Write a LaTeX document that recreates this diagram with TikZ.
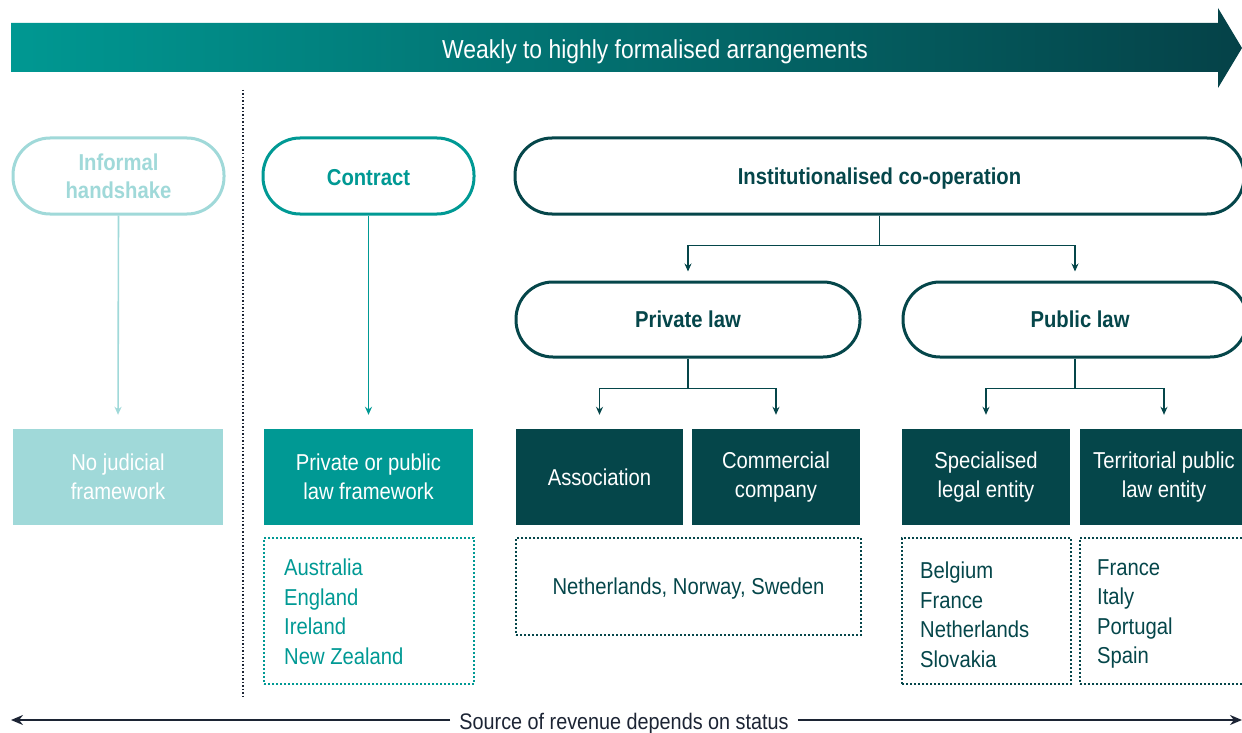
\documentclass[tikz,border=0pt]{standalone}
\usepackage{fontspec}
\setmainfont{Liberation Sans}[FakeStretch=0.88]
\usetikzlibrary{arrows.meta}

\definecolor{paleteal}{RGB}{160,217,217}
\definecolor{midteal}{RGB}{0,153,148}
\definecolor{deepteal}{RGB}{5,70,74}
\definecolor{bandleft}{RGB}{0,152,146}
\definecolor{bandright}{RGB}{5,66,72}
\definecolor{inkblue}{RGB}{28,36,52}

\tikzset{
  pill/.style={draw, line width=3pt, rounded corners=37pt, minimum height=76pt,
    fill=white, inner sep=0pt, align=center,
    font=\bfseries\fontsize{23}{28}\selectfont},
  solidbox/.style={minimum height=96pt, inner sep=0pt, align=center,
    text=white, font=\fontsize{23}{29}\selectfont},
  listbox/.style={draw, line width=2pt, dash pattern=on 2pt off 2pt, inner sep=0pt},
  listtext/.style={anchor=north west, inner sep=0pt, align=left,
    font=\fontsize{23}{29.5}\selectfont},
  conn/.style={line width=1.6pt, -{Stealth[length=8pt,width=7pt]}},
  trunk/.style={line width=1.6pt},
}

\begin{document}
\begin{tikzpicture}[x=1pt,y=-1pt]
\clip (0,0) rectangle (1242,733);

% Formalisation band across the top
\shade[left color=bandleft, right color=bandright]
  (11,23) -- (1218,23) -- (1218,8) -- (1242,48) -- (1218,88) -- (1218,72) -- (11,72) -- cycle;
\node[text=white, font=\fontsize{26}{30}\selectfont, text depth=0pt] (band) at (655,49)
  {Weakly to highly formalised arrangements};

% Separator between informal and formal arrangements
\coordinate (septop) at (243,90);
\coordinate (sepbot) at (243,698);
\draw[inkblue, line width=1.3pt, dash pattern=on 1.5pt off 2pt] (septop) -- (sepbot);

% Top-level arrangement types
\node[pill, draw=paleteal, text=paleteal, minimum width=211pt] (informal) at (118.5,176)
  {Informal\\handshake};
\node[pill, draw=midteal, text=midteal, minimum width=211pt, text height=20pt] (contract) at (368.5,176)
  {Contract};
\node[pill, draw=deepteal, text=deepteal, minimum width=729pt, text depth=0pt] (inst) at (879.5,176)
  {Institutionalised co-operation};

% Legal basis of institutionalised co-operation
\node[pill, draw=deepteal, text=deepteal, minimum width=344pt, minimum height=75pt] (privlaw) at (688,319.5)
  {Private law};
\node[pill, draw=deepteal, text=deepteal, minimum width=344pt, minimum height=75pt] (publaw) at (1075,319.5)
  {\hspace*{10pt}Public law};

% Legal forms
\node[solidbox, fill=paleteal, minimum width=210pt] (nojud) at (118,477)
  {No judicial\\framework};
\node[solidbox, fill=midteal, minimum width=209pt] (privpub) at (368.5,477)
  {Private or public\\law framework};
\node[solidbox, fill=deepteal, minimum width=167pt] (assoc) at (599.5,477)
  {Association};
\node[solidbox, fill=deepteal, minimum width=168pt] (company) at (776,477)
  {Commercial\\company};
\node[solidbox, fill=deepteal, minimum width=168pt] (special) at (986,477)
  {Specialised\\legal entity};
\node[solidbox, fill=deepteal, minimum width=168pt] (territ) at (1164,477)
  {Territorial public\\law entity};

% Countries using each form
\node[listbox, draw=midteal, minimum width=210pt, minimum height=146pt] (ctrybox) at (369,611) {};
\node[listtext, text=midteal] (ctrylist) at (284,559)
  {Australia\\England\\Ireland\\New Zealand};
\node[listbox, draw=deepteal, text=deepteal, minimum width=345pt, minimum height=97pt,
  font=\fontsize{23}{29}\selectfont, text depth=0pt] (privlist) at (688.5,586.5)
  {Netherlands, Norway, Sweden};
\node[listbox, draw=deepteal, minimum width=169pt, minimum height=146pt] (specbox) at (986.5,611) {};
\node[listtext, text=deepteal] (speclist) at (920,562)
  {Belgium\\France\\Netherlands\\Slovakia};
\node[listbox, draw=deepteal, minimum width=168pt, minimum height=146pt] (terrbox) at (1164,611) {};
\node[listtext, text=deepteal] (terrlist) at (1097,559)
  {France\\Italy\\Portugal\\Spain};

% Connectors
\draw[conn, paleteal, shorten >=14pt] (informal.south) -- (nojud.north);
\draw[conn, midteal, shorten >=14pt] (contract.south) -- (privpub.north);

\coordinate (instfork) at ([yshift=-30pt]inst.south);
\draw[trunk, deepteal] (inst.south) -- (instfork);
\draw[conn, deepteal, shorten >=9pt] (instfork) -| (privlaw.north);
\draw[conn, deepteal, shorten >=9pt] (instfork) -| (publaw.north);

\coordinate (privfork) at ([yshift=-30pt]privlaw.south);
\draw[trunk, deepteal] (privlaw.south) -- (privfork);
\draw[conn, deepteal, shorten >=14pt] (privfork) -| (assoc.north);
\draw[conn, deepteal, shorten >=14pt] (privfork) -| (company.north);

\coordinate (pubfork) at ([yshift=-30pt]publaw.south);
\draw[trunk, deepteal] (publaw.south) -- (pubfork);
\draw[conn, deepteal, shorten >=14pt] (pubfork) -| (special.north);
\draw[conn, deepteal, shorten >=14pt] (pubfork) -| (territ.north);

% Revenue axis along the bottom
\node[text=inkblue, inner xsep=9pt, inner ysep=0pt, text depth=0pt,
  font=\fontsize{22.5}{26}\selectfont] (revenue) at (624,721)
  {Source of revenue depends on status};
\coordinate (revleft) at (11,720);
\coordinate (revright) at (1242,720);
\draw[inkblue, line width=1.6pt, -{Stealth[length=12pt,width=10pt]}] (revenue.west |- revleft) -- (revleft);
\draw[inkblue, line width=1.6pt, -{Stealth[length=12pt,width=10pt]}] (revenue.east |- revright) -- (revright);
\end{tikzpicture}
\end{document}
